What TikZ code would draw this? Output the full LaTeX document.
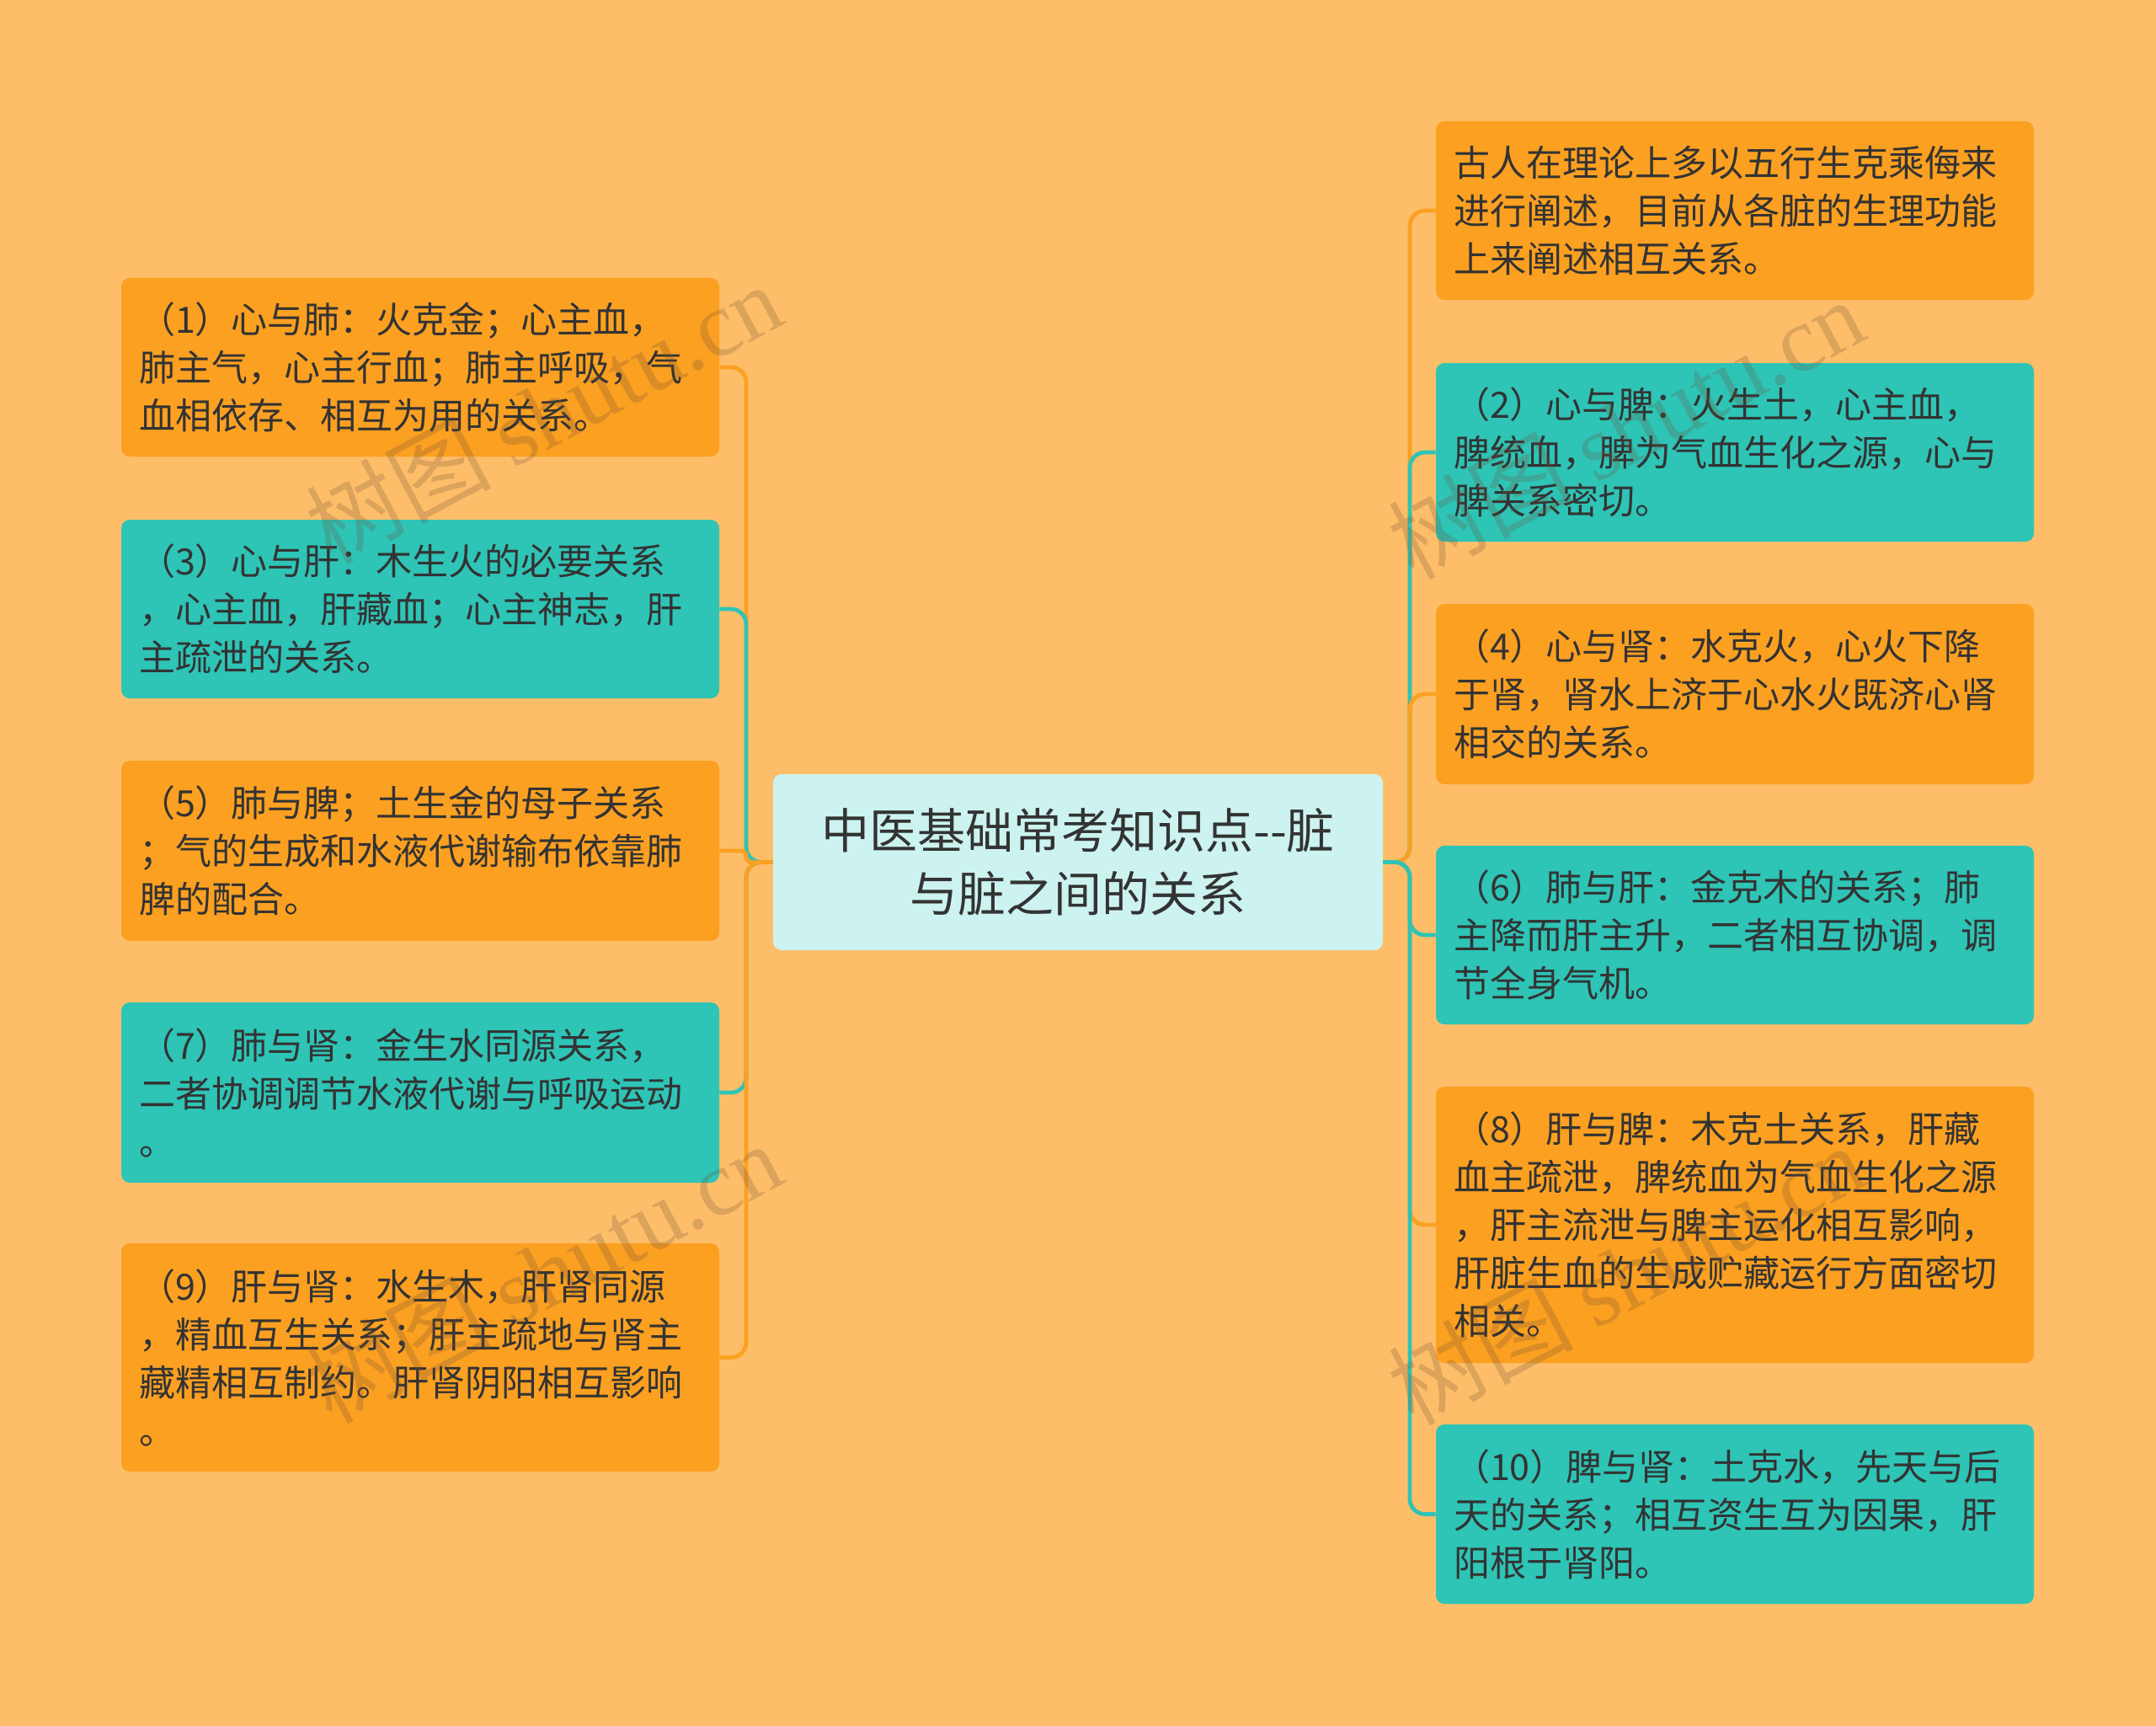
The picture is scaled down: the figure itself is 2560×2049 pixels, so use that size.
\documentclass[tikz,border=0pt]{standalone}
\usepackage{fontspec}
\setmainfont{Noto Sans CJK SC}
\newfontfamily\wmlatin{Liberation Serif}
\definecolor{bgc}{HTML}{FEBE69}
\definecolor{orb}{HTML}{FBA021}
\definecolor{tlb}{HTML}{2EC4B6}
\definecolor{ctr}{HTML}{CCF3EF}
\definecolor{txt}{HTML}{333333}
\definecolor{wmc}{HTML}{6E5035}
\begin{document}
\begin{tikzpicture}[x=0.5pt,y=-0.5pt,
  box/.style={rounded corners=5pt, minimum width=355pt, text width=334pt, align=left,
    inner sep=0pt, font=\fontsize{21.5pt}{28.5pt}\selectfont, text=txt},
  obox/.style={box, fill=orb},
  tbox/.style={box, fill=tlb},
  cbox/.style={rounded corners=5pt, fill=ctr, minimum width=362pt, minimum height=104.5pt,
    text width=340pt, align=center, inner sep=0pt, font=\fontsize{28.5pt}{37.5pt}\selectfont, text=txt},
  conn/.style={line width=2.4pt, rounded corners=9pt},
  oconn/.style={conn, draw=orb},
  tconn/.style={conn, draw=tlb},
  wm/.style={text=wmc, opacity=0.24, rotate=28, font=\fontsize{55pt}{60pt}\selectfont, inner sep=0pt}
]
\fill[bgc] (0,0) rectangle (2560,2049);
\useasboundingbox (0,0) rectangle (2560,2049);

\node[cbox] (c) at (1280,1023.5) {中医基础常考知识点-{}-脏\\与脏之间的关系};

\node[obox, minimum height=106pt] (L1) at (499,436) {（1）心与肺：火克金；心主血，\\肺主气，心主行血；肺主呼吸，气\\血相依存、相互为用的关系。};
\node[tbox, minimum height=106pt] (L3) at (499,723) {（3）心与肝：木生火的必要关系\\，心主血，肝藏血；心主神志，肝\\主疏泄的关系。};
\node[obox, minimum height=107pt] (L5) at (499,1010) {（5）肺与脾；土生金的母子关系\\；气的生成和水液代谢输布依靠肺\\脾的配合。};
\node[tbox, minimum height=107pt] (L7) at (499,1297) {（7）肺与肾：金生水同源关系，\\二者协调调节水液代谢与呼吸运动\\。};
\node[obox, minimum height=135.5pt] (L9) at (499,1611.5) {（9）肝与肾：水生木，肝肾同源\\，精血互生关系；肝主疏地与肾主\\藏精相互制约。肝肾阴阳相互影响\\。};

\node[obox, minimum height=106pt] (R0) at (2060,250) {古人在理论上多以五行生克乘侮来\\进行阐述，目前从各脏的生理功能\\上来阐述相互关系。};
\node[tbox, minimum height=106pt] (R2) at (2060,537) {（2）心与脾：火生土，心主血，\\脾统血，脾为气血生化之源，心与\\脾关系密切。};
\node[obox, minimum height=107pt] (R4) at (2060,824) {（4）心与肾：水克火，心火下降\\于肾，肾水上济于心水火既济心肾\\相交的关系。};
\node[tbox, minimum height=106pt] (R6) at (2060,1110) {（6）肺与肝：金克木的关系；肺\\主降而肝主升，二者相互协调，调\\节全身气机。};
\node[obox, minimum height=164pt] (R8) at (2060,1454) {（8）肝与脾：木克土关系，肝藏\\血主疏泄，脾统血为气血生化之源\\，肝主流泄与脾主运化相互影响，\\肝脏生血的生成贮藏运行方面密切\\相关。};
\node[tbox, minimum height=106.5pt] (R10) at (2060,1797.5) {（10）脾与肾：土克水，先天与后\\天的关系；相互资生互为因果，肝\\阳根于肾阳。};

\coordinate (ls) at (886,1023.5);
\coordinate (rs) at (1674,1023.5);

\draw[oconn] (c.west) -- (ls) |- (L1.east);
\draw[tconn] (c.west) -- (ls) |- (L3.east);
\draw[oconn, rounded corners=3pt] (c.west) -- (ls) |- (L5.east);
\draw[tconn] (c.west) -- (ls) |- (L7.east);
\draw[oconn] (c.west) -- (ls) |- (L9.east);

\draw[oconn] (c.east) -- (rs) |- (R0.west);
\draw[tconn] (c.east) -- (rs) |- (R2.west);
\draw[oconn] (c.east) -- (rs) |- (R4.west);
\draw[tconn] (c.east) -- (rs) |- (R6.west);
\draw[oconn] (c.east) -- (rs) |- (R8.west);
\draw[tconn] (c.east) -- (rs) |- (R10.west);

\node[wm] (w1) at (645,490) {树图 {\wmlatin shutu.cn}};
\node[wm] (w2) at (1930,508) {树图 {\wmlatin shutu.cn}};
\node[wm] (w3) at (645,1510) {树图 {\wmlatin shutu.cn}};
\node[wm] (w4) at (1930,1512) {树图 {\wmlatin shutu.cn}};
\end{tikzpicture}
\end{document}
